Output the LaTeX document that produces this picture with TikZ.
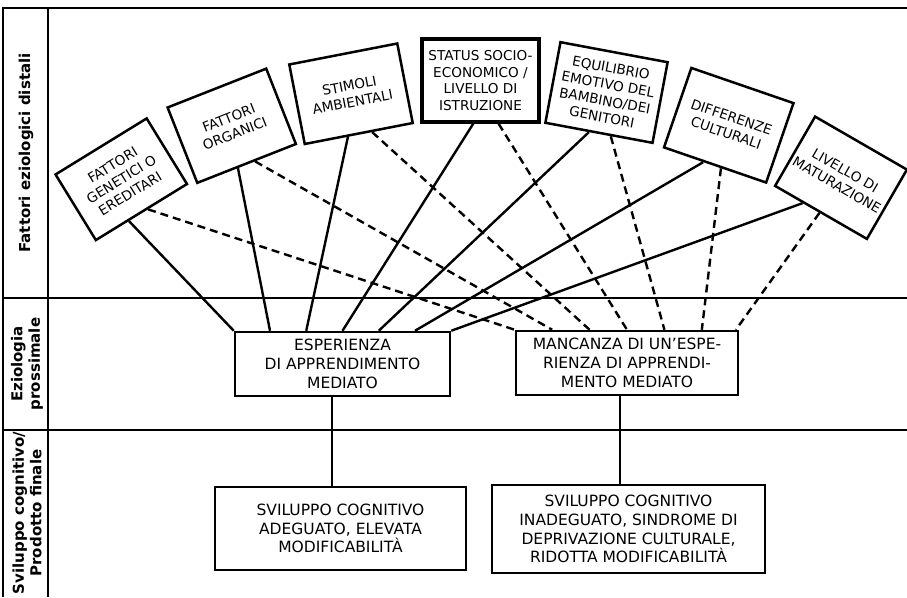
\documentclass[tikz,border=0pt]{standalone}
\usepackage{fontspec}
\setmainfont{DejaVu Sans}
\usetikzlibrary{calc}
\begin{document}
\begin{tikzpicture}[x=1pt,y=-1pt,
  fbox/.style={draw, line width=2.5pt, fill=white, align=center, inner sep=0pt,
    font=\fontsize{13.6}{16.7}\selectfont},
  mbox/.style={draw, line width=2.5pt, fill=white, align=center, inner sep=0pt,
    font=\fontsize{15.5}{18.8}\selectfont},
  lab/.style={align=center, inner sep=0pt, rotate=90,
    font=\bfseries\fontsize{15}{17.5}\selectfont},
  solidline/.style={line width=2.4pt},
  dashline/.style={line width=2.4pt, dash pattern=on 8pt off 5pt},
  frameline/.style={line width=2.2pt},
  divline/.style={line width=1.4pt}]
\useasboundingbox (0,0) rectangle (907,597);
\fill[white] (0,0) rectangle (907,597);
% frame
\coordinate (tl) at (3,8);
\coordinate (tr) at (907,8);
\coordinate (bl) at (3,597);
\coordinate (ct) at (48,8);
\coordinate (cb) at (48,597);
\coordinate (d1l) at (3,298);
\coordinate (d1r) at (907,298);
\coordinate (d2l) at (3,430);
\coordinate (d2r) at (907,430);
\draw[frameline] (tr) -- (tl) -- (bl);
\draw[frameline] (ct) -- (cb);
\draw[divline] (d1l) -- (d1r);
\draw[divline] (d2l) -- (d2r);
% section labels
\node[lab] (l1) at (26,153) {Fattori eziologici distali};
\node[lab] (l2) at (27,364) {Eziologia\\prossimale};
\node[lab] (l3) at (27,513) {Sviluppo cognitivo/\\Prodotto finale};
% top boxes
\node[fbox, minimum width=107pt, minimum height=77pt, rotate=31.6] (gen) at (121.25,179.25) {FATTORI\\GENETICI O\\EREDITARI};
\node[fbox, minimum width=106pt, minimum height=81pt, rotate=21.5] (org) at (231.75,125.75) {FATTORI\\ORGANICI};
\node[fbox, minimum width=110pt, minimum height=81pt, rotate=11] (sti) at (351,93.75) {STIMOLI\\AMBIENTALI};
\node[fbox, line width=3.2pt, minimum width=117pt, minimum height=83pt] (sta) at (480.5,80.5) {STATUS SOCIO-\\ECONOMICO /\\LIVELLO DI\\ISTRUZIONE};
\node[fbox, minimum width=109pt, minimum height=82pt, rotate=-10.6] (equ) at (606.5,92.5) {EQUILIBRIO\\EMOTIVO DEL\\BAMBINO/DEI\\GENITORI};
\node[fbox, minimum width=108pt, minimum height=84pt, rotate=-19] (dif) at (728.75,125.25) {DIFFERENZE\\CULTURALI};
\node[fbox, minimum width=106pt, minimum height=80pt, rotate=-30] (liv) at (841,177.75) {LIVELLO DI\\MATURAZIONE};
% middle boxes
\node[mbox, minimum width=215pt, minimum height=64pt] (esp) at (342.5,364) {ESPERIENZA\\DI APPRENDIMENTO\\MEDIATO};
\node[mbox, minimum width=222pt, minimum height=64pt] (man) at (627,363) {MANCANZA DI UN’ESPE-\\RIENZA DI APPRENDI-\\MENTO MEDIATO};
% bottom boxes
\node[mbox, minimum width=251pt, minimum height=83pt] (ok) at (340.5,528.5) {SVILUPPO COGNITIVO\\ADEGUATO, ELEVATA\\MODIFICABILITÀ};
\node[mbox, minimum width=273pt, minimum height=88pt] (ko) at (628.5,529) {SVILUPPO COGNITIVO\\INADEGUATO, SINDROME DI\\DEPRIVAZIONE CULTURALE,\\RIDOTTA MODIFICABILITÀ};
% solid connectors to ESPERIENZA
\draw[solidline] ($(gen.south west)!0.36!(gen.south east)$) -- (esp.north west);
\draw[solidline] ($(org.south west)!0.41!(org.south east)$) -- ($(esp.north west)!0.1667!(esp.north east)$);
\draw[solidline] ($(sti.south west)!0.40!(sti.south east)$) -- ($(esp.north west)!0.3333!(esp.north east)$);
\draw[solidline] ($(sta.south west)!0.44!(sta.south east)$) -- ($(esp.north west)!0.5!(esp.north east)$);
\draw[solidline] ($(equ.south west)!0.41!(equ.south east)$) -- ($(esp.north west)!0.6667!(esp.north east)$);
\draw[solidline] ($(dif.south west)!0.39!(dif.south east)$) -- ($(esp.north west)!0.8333!(esp.north east)$);
\draw[solidline] ($(liv.south west)!0.31!(liv.south east)$) -- (esp.north east);
% dashed connectors to MANCANZA
\draw[dashline] ($(gen.south west)!0.565!(gen.south east)$) -- (man.north west);
\draw[dashline] ($(org.south west)!0.58!(org.south east)$) -- ($(man.north west)!0.1667!(man.north east)$);
\draw[dashline] ($(sti.south west)!0.62!(sti.south east)$) -- ($(man.north west)!0.3333!(man.north east)$);
\draw[dashline] ($(sta.south west)!0.65!(sta.south east)$) -- ($(man.north west)!0.5!(man.north east)$);
\draw[dashline] ($(equ.south west)!0.61!(equ.south east)$) -- ($(man.north west)!0.6667!(man.north east)$);
\draw[dashline] ($(dif.south west)!0.56!(dif.south east)$) -- ($(man.north west)!0.8333!(man.north east)$);
\draw[dashline] ($(liv.south west)!0.49!(liv.south east)$) -- ($(man.north west)!0.985!(man.north east)$);
% vertical connectors
\draw[solidline] ([xshift=-10.5pt]esp.south) -- ([xshift=-10.5pt]esp.south |- ok.north);
\draw[solidline] ([xshift=-7pt]man.south) -- ([xshift=-7pt]man.south |- ko.north);
\end{tikzpicture}
\end{document}
